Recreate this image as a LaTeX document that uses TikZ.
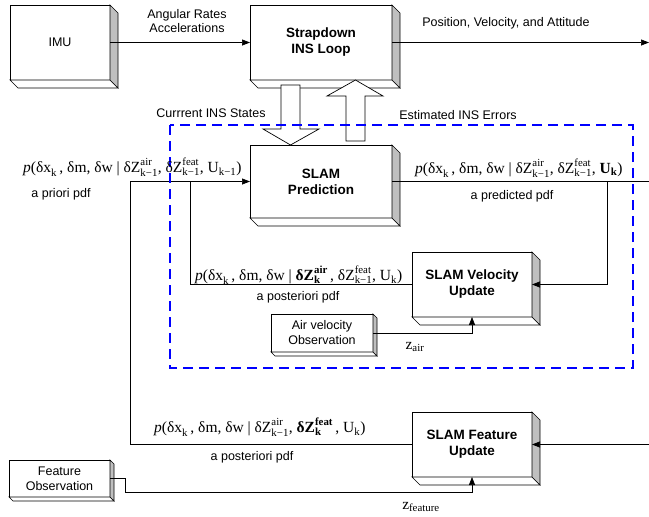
\documentclass[tikz,border=0pt]{standalone}
\usepackage{fontspec}
\usepackage{amsmath}
\setmainfont{Liberation Sans}
\newfontfamily\tms{Liberation Serif}
\usetikzlibrary{arrows.meta,calc}
\newcommand\T[1]{\text{\tms #1}}
\newcommand\TB[1]{\text{\tms\bfseries #1}}
\newcommand\drawdepth[2]{%
 \path[botf] (#1.south west) -- (#1.south east) -- ($(#1.south east)+(#2,#2)$) -- ($(#1.south west)+(#2,#2)$) -- cycle;
 \path[sidef] (#1.north east) -- ($(#1.north east)+(#2,#2)$) -- ($(#1.south east)+(#2,#2)$) -- (#1.south east) -- cycle;}
\tikzset{
 front/.style={draw, fill=white, line width=0.9pt, inner sep=0pt, outer sep=0pt, align=center, font=\fontsize{13.5}{16}\selectfont\bfseries},
 plainbox/.style={front, font=\fontsize{12.5}{15}\selectfont},
 arr/.style={-{Triangle[length=8pt,width=6pt]}, line width=0.7pt},
 conn/.style={line width=0.7pt},
 lbl/.style={font=\fontsize{12.5}{14}\selectfont, inner sep=0pt, align=center},
 fml/.style={font=\fontsize{15.5}{17}\selectfont, inner sep=0pt},
 sidef/.style={fill=gray!50, draw=black, line width=0.7pt},
 botf/.style={fill=white, draw=black, line width=0.7pt},
 hollow/.style={fill=white, draw=black, line width=0.7pt},
 region/.style={draw=blue, line width=2.5pt, dash pattern=on 10pt off 6pt},
}
\begin{document}
\begin{tikzpicture}[x=1pt,y=-1pt]
\useasboundingbox (0,0) rectangle (649,517);
% boxes
\node[plainbox, minimum width=100pt, minimum height=75pt] (imu) at (60,42.5) {IMU};
\node[front, minimum width=142pt, minimum height=75pt] (sins) at (321,42.5) {Strapdown\\INS Loop};
\node[front, minimum width=142pt, minimum height=73pt] (pred) at (321,181.5) {SLAM\\Prediction};
\node[front, minimum width=120pt, minimum height=65pt] (vel) at (472,284.5) {SLAM Velocity\\Update};
\node[front, minimum width=120pt, minimum height=65pt] (feat) at (472,444.5) {SLAM Feature\\Update};
\node[plainbox, minimum width=102pt, minimum height=38pt] (air) at (322,333) {Air velocity\\Observation};
\node[plainbox, minimum width=101pt, minimum height=37pt] (fobs) at (59.5,478.5) {Feature\\Observation};
\drawdepth{imu}{8}
\drawdepth{sins}{8}
\drawdepth{pred}{8}
\drawdepth{vel}{8}
\drawdepth{feat}{8}
\drawdepth{air}{4}
\drawdepth{fobs}{4}
% hollow arrows between INS loop and SLAM prediction
\path[hollow] (281,85) -- (300,85) -- (300,129) -- (319,129) -- (290.5,145) -- (263,129) -- (281,129) -- cycle;
\path[hollow] (346,141) -- (365,141) -- (365,96) -- (383,96) -- (355.5,80) -- (327,96) -- (346,96) -- cycle;
% coordinates
\coordinate (out) at (649,42.5);
\coordinate (l1) at (130,181.5);
\coordinate (l2) at (190,181.5);
\coordinate (r1) at (607,181.5);
\coordinate (r0) at (649,181.5);
\coordinate (r2) at (649,444.5);
\coordinate (f1) at (125,492);
% connectors
\draw[arr] (imu.east) -- (sins.west);
\draw[arr] (sins.east) -- (out);
\draw[arr] (l1) -- (pred.west);
\draw[conn] (feat.west) -| (l1);
\draw[conn] (vel.west) -| (l2);
\draw[conn] (pred.east) -- (r0);
\draw[arr] (r1) |- (vel.east);
\draw[arr] (r2) -- (feat.east);
\draw[arr] (air.east) -| (vel.south);
\draw[arr] (fobs.east) -| (f1) -| (feat.south);
% dashed region
\draw[region] (170,125) rectangle (633,368);
% labels
\node[lbl] (lar) at (187,21) {Angular Rates\\Accelerations};
\node[lbl] (lpva) at (506,23) {Position, Velocity, and Attitude};
\node[lbl] (lcur) at (211,113) {Currrent INS States};
\node[lbl] (lest) at (458,115) {Estimated INS Errors};
\node[lbl] (lprior) at (61,194) {a priori pdf};
\node[lbl] (lpred) at (512,196) {a predicted pdf};
\node[lbl] (lpost1) at (298,297) {a posteriori pdf};
\node[lbl] (lpost2) at (252,457) {a posteriori pdf};
% formulas
\node[fml, anchor=west] (f0) at (23,167) {$\T{\itshape p}\T{(δx}_{\T{k}}\,\T{, δm, δw | δZ}^{\T{air}}_{\T{k−1}}\T{, δZ}^{\T{feat}}_{\T{k−1}}\T{, U}_{\T{k−1}}\T{)}$};
\node[fml, anchor=west] (fp) at (415,168) {$\T{\itshape p}\T{(δx}_{\T{k}}\,\T{, δm, δw | δZ}^{\T{air}}_{\T{k−1}}\T{, δZ}^{\T{feat}}_{\T{k−1}}\T{, }\TB{U}_{\TB{k}}\T{)}$};
\node[fml, anchor=west] (fv) at (195,275) {$\T{\itshape p}\T{(δx}_{\T{k}}\,\T{, δm, δw | }\TB{δZ}^{\TB{air}}_{\TB{k}}\,\T{, δZ}^{\T{feat}}_{\T{k−1}}\T{, U}_{\T{k}}\T{)}$};
\node[fml, anchor=west] (ff) at (154,427) {$\T{\itshape p}\T{(δx}_{\T{k}}\,\T{, δm, δw | δZ}^{\T{air}}_{\T{k−1}}\T{, }\TB{δZ}^{\TB{feat}}_{\TB{k}}\,\T{, U}_{\T{k}}\T{)}$};
\node[fml] (zair) at (415,347) {$\T{z}_{\T{air}}$};
\node[fml] (zfeat) at (421,507) {$\T{z}_{\T{feature}}$};
\end{tikzpicture}
\end{document}
